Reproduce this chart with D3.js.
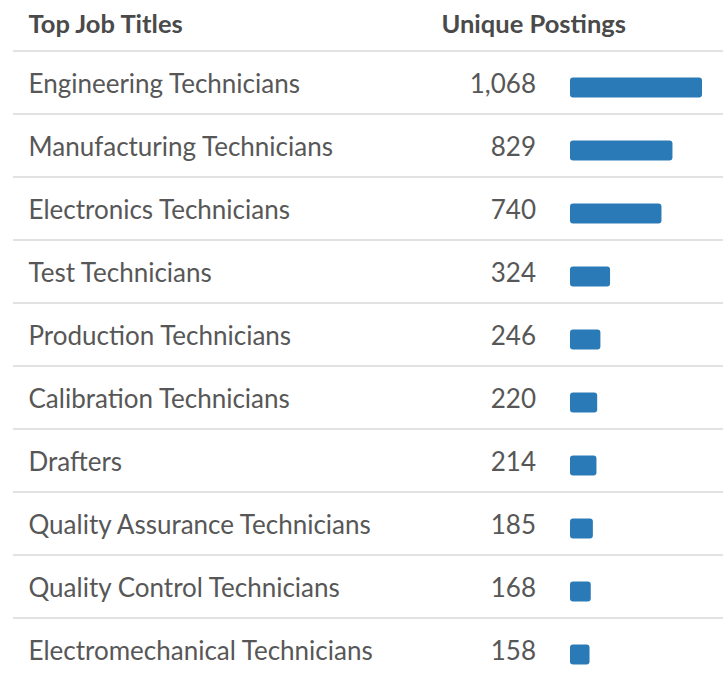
<!DOCTYPE html>
<html>
<head>
<meta charset="utf-8">
<script src="https://cdn.jsdelivr.net/npm/d3@7/dist/d3.min.js"></script>
<style>
	body { margin: 0; background: #fff; }
	svg { display: block; font-family: Lato, "Open Sans", sans-serif; }
</style>
</head>
<body>
<svg id="chart" width="723" height="675"></svg>
<script>
(function(){

	var titles = [
		"Engineering Technicians",
		"Manufacturing Technicians",
		"Electronics Technicians",
		"Test Technicians",
		"Production Technicians",
		"Calibration Technicians",
		"Drafters",
		"Quality Assurance Technicians",
		"Quality Control Technicians",
		"Electromechanical Technicians"
	];
	var postings = [1068, 829, 740, 324, 246, 220, 214, 185, 168, 158];
	var headers = ["Top Job Titles", "Unique Postings"];

	var svg = d3.select("#chart");
	var headerLine = 51, rowH = 63;
	var lineX0 = 13, lineX1 = 723;
	var textX = 28.5, valueX = 536, barX = 570;

	var y = d3.scaleBand()
		.domain(titles)
		.range([headerLine, headerLine + rowH * titles.length]);

	var x = d3.scaleLinear()
		.domain([0, d3.max(postings)])
		.range([0, 132]);

	// header
	svg.append("text")
		.attr("x", textX)
		.attr("y", 32.5)
		.attr("fill", "#4a4a4a")
		.attr("font-weight", "bold")
		.attr("font-size", 25.5)
		.text(headers[0]);

	svg.append("text")
		.attr("x", 626)
		.attr("y", 32.5)
		.attr("text-anchor", "end")
		.attr("fill", "#4a4a4a")
		.attr("font-weight", "bold")
		.attr("font-size", 25.5)
		.text(headers[1]);

	// separators
	svg.append("g")
		.selectAll("line")
		.data(d3.range(titles.length))
		.enter().append("line")
			.attr("x1", lineX0)
			.attr("x2", lineX1)
			.attr("y1", function(i){ return headerLine + i * rowH; })
			.attr("y2", function(i){ return headerLine + i * rowH; })
			.attr("stroke", "#e2e2e2")
			.attr("stroke-width", 2);

	var rows = svg.append("g")
		.selectAll("g")
		.data(titles)
		.enter().append("g")
			.attr("transform", function(d){ return "translate(0," + (y(d) + y.bandwidth() / 2) + ")"; });

	rows.append("text")
		.attr("x", textX)
		.attr("y", 10.5)
		.attr("fill", "#575757")
		.attr("font-size", 26)
		.text(function(d){ return d; });

	rows.append("text")
		.attr("x", valueX)
		.attr("y", 10.5)
		.attr("text-anchor", "end")
		.attr("fill", "#575757")
		.attr("font-size", 26)
		.text(function(d, i){ return d3.format(",")(postings[i]); });

	rows.append("rect")
		.attr("x", barX)
		.attr("y", -5)
		.attr("height", 20)
		.attr("width", function(d, i){ return x(postings[i]); })
		.attr("rx", 3)
		.attr("fill", "#2a7ab8");

})();
</script>
</body>
</html>
